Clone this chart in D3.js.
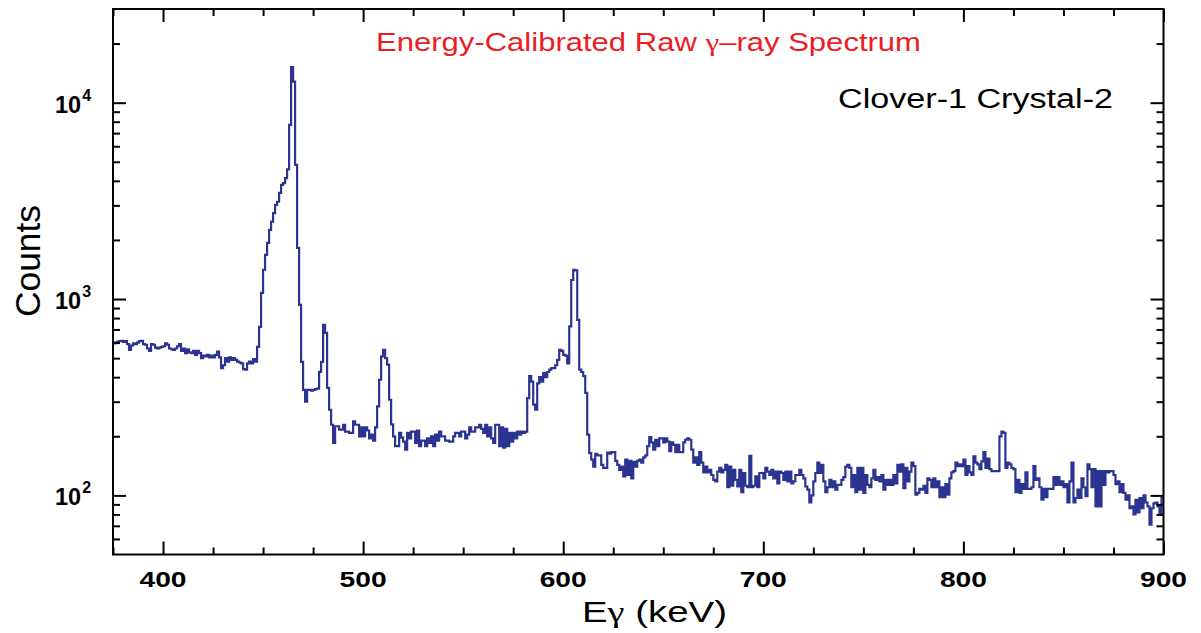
<!DOCTYPE html>
<html><head><meta charset="utf-8">
<script src="https://cdn.jsdelivr.net/npm/d3@7/dist/d3.min.js"></script>
<style>body{margin:0;background:#fff}svg{display:block}</style>
</head><body>
<svg id="chart" width="1201" height="633"></svg>
<script>
// ---- data ----
const binStart = 375;      // keV, left edge of first bin
const binWidth = 1;        // keV
const counts = [
  595,600,605,610,612,605,610,590,551,580,
  595,590,600,610,612,590,585,560,545,590,
  585,565,560,565,570,575,595,585,560,555,
  550,560,575,590,545,560,530,555,535,530,
  545,520,545,530,500,515,510,520,505,515,
  505,520,540,505,445,460,500,480,505,490,
  500,490,480,475,470,440,437,470,480,470,
  495,480,571,722,1076,1410,1680,1930,2250,2480,
  2740,3020,3130,3470,3810,3890,4130,4570,7700,15200,
  12800,4820,1820,934,479,345,300,345,345,342,
  345,348,350,426,479,739,673,353,273,229,
  185,225,225,216,216,229,211,211,208,208,
  238,229,229,200,222,200,222,214,195,204,
  190,222,284,388,510,551,500,463,307,230,
  200,178,178,208,197,188,171,208,195,211,
  211,185,214,178,190,190,178,195,185,200,
  178,204,190,211,200,200,190,190,188,188,
  200,208,208,200,211,211,195,204,222,211,
  211,222,222,229,218,208,229,200,222,195,
  185,229,229,178,222,175,218,178,208,188,
  208,195,211,204,211,208,211,313,405,380,
  290,273,372,400,380,420,400,425,437,445,
  445,460,490,551,545,520,515,470,726,1250,
  1410,1400,784,437,425,405,333,204,164,152,
  140,163,160,160,143,138,138,165,163,166,
  166,150,143,135,140,125,152,127,150,122,
  148,140,150,152,147,156,160,178,198,186,
  171,192,178,195,195,186,195,188,168,186,
  181,166,181,166,166,186,192,195,192,171,
  147,156,143,166,147,131,140,131,135,127,
  120,118,132,138,131,135,143,110,140,112,
  135,120,111,135,104,130,112,110,159,110,
  112,125,110,130,130,122,138,132,127,135,
  122,132,115,132,130,120,132,118,132,115,
  118,127,127,135,127,122,111,107,92,100,
  118,130,147,130,143,118,104,110,120,110,
  118,107,113,113,120,124,140,143,138,110,
  127,104,138,107,138,103,127,113,110,122,
  135,120,124,118,127,107,120,113,120,113,
  127,115,143,132,144,109,138,118,132,147,
  141,101,103,108,107,112,103,122,120,110,
  122,110,118,98,110,98,114,101,122,131,
  133,147,141,144,141,152,127,141,131,127,
  158,147,144,136,149,166,138,154,136,133,
  133,133,133,200,211,208,138,147,144,138,
  136,104,120,103,114,108,131,108,108,110,
  141,120,122,110,95,108,98,108,108,108,
  124,113,124,113,118,110,114,92,118,147,
  92,97,107,97,122,110,99,144,136,110,
  136,88,133,88,133,113,133,131,133,133,
  127,114,118,104,114,103,95,100,86,88,
  80,95,82,97,86,100,92,88,71,86,
  91,92,88,80,97
];
const xDomain = [375, 900];
const yDomain = [50, 30000];
const xMajorTicks = [400, 500, 600, 700, 800, 900];
const xMinorTicks = [375, 425, 450, 475, 525, 550, 575, 625, 650, 675, 725, 750, 775, 825, 850, 875];
const yMajorTicks = [100, 1000, 10000];
const yTickExponents = ["2", "3", "4"];
const titleParts = ["Energy-Calibrated Raw ", "\u03b3", "\u2013ray Spectrum"];
const labelText = "Clover-1 Crystal-2";
const xTitleParts = ["E", "\u03b3", " (keV)"];
const yTitle = "Counts";

// ---- layout ----
const L = 113, R = 1163.5, T = 9, B = 554.5;
const lineColor = "#2b3591";
const svg = d3.select("#chart");
const x = d3.scaleLinear().domain(xDomain).range([L, R]);
const y = d3.scaleLog().domain(yDomain).range([B, T]);

const yMinorTicks = [];
[10, 100, 1000, 10000].forEach(d => { for (let m = 2; m <= 9; m++) { const v = d * m; if (v > yDomain[0] && v < yDomain[1]) yMinorTicks.push(v); } });

svg.append("defs").append("clipPath").attr("id", "clip")
  .append("rect").attr("x", L).attr("y", T).attr("width", R - L).attr("height", B - T);

// histogram
const pts = counts.map((c, i) => [binStart + i * binWidth, c]);
pts.push([binStart + counts.length * binWidth, counts[counts.length - 1]]);
const line = d3.line().x(d => x(d[0])).y(d => y(d[1])).curve(d3.curveStepAfter);
svg.append("path").datum(pts).attr("clip-path", "url(#clip)")
  .attr("d", line).attr("fill", "none").attr("stroke", lineColor)
  .attr("stroke-width", 2.2).attr("stroke-linejoin", "miter");

// axes ticks (inward)
function ticks(axisFn, scale, values, size, transform) {
  const g = svg.append("g").attr("transform", transform)
    .call(axisFn(scale).tickValues(values).tickSize(size).tickFormat(""));
  g.select(".domain").remove();
  g.selectAll("line").attr("stroke", "#000").attr("stroke-width", 2);
}
ticks(d3.axisBottom, x, xMajorTicks, -13, `translate(0,${B})`);
ticks(d3.axisBottom, x, xMinorTicks, -7, `translate(0,${B})`);
ticks(d3.axisTop, x, xMajorTicks, -13, `translate(0,${T})`);
ticks(d3.axisTop, x, xMinorTicks, -7, `translate(0,${T})`);
ticks(d3.axisLeft, y, yMajorTicks, -13, `translate(${L},0)`);
ticks(d3.axisLeft, y, yMinorTicks, -7, `translate(${L},0)`);
ticks(d3.axisRight, y, yMajorTicks, -13, `translate(${R},0)`);
ticks(d3.axisRight, y, yMinorTicks, -7, `translate(${R},0)`);

// frame
svg.append("rect").attr("x", L).attr("y", T).attr("width", R - L).attr("height", B - T)
  .attr("fill", "none").attr("stroke", "#000").attr("stroke-width", 2);

const font = "'Liberation Sans', Arial, Helvetica, sans-serif";
const serif = "'Liberation Serif', 'DejaVu Serif', serif";

// x tick labels
svg.append("g").selectAll("text").data(xMajorTicks).join("text")
  .attr("x", d => x(d)).attr("y", 587).attr("text-anchor", "middle")
  .attr("font-family", font).attr("font-weight", "bold").attr("font-size", 21.5)
  .attr("textLength", 47).attr("lengthAdjust", "spacingAndGlyphs")
  .text(d => d);

// y tick labels 10^n
const yl = svg.append("g").selectAll("text").data(yMajorTicks).join("text")
  .attr("x", 55).attr("y", d => y(d) + 10)
  .attr("font-family", font).attr("font-weight", "bold").attr("font-size", 23.5);
yl.append("tspan").text("10");
yl.append("tspan").attr("dx", 1).attr("dy", -12).attr("font-size", 16).text((d, i) => yTickExponents[i]);

// titles
const t1 = svg.append("text").attr("x", 376).attr("y", 51).attr("fill", "#ec1c24")
  .attr("font-family", font).attr("font-size", 26)
  .attr("textLength", 545).attr("lengthAdjust", "spacingAndGlyphs");
titleParts.forEach((p, i) => t1.append("tspan").attr("font-family", i === 1 ? serif : font).text(p));

svg.append("text").attr("x", 838).attr("y", 108).attr("fill", "#000")
  .attr("font-family", font).attr("font-size", 27)
  .attr("textLength", 275).attr("lengthAdjust", "spacingAndGlyphs").text(labelText);

const t2 = svg.append("text").attr("x", 582).attr("y", 622).attr("fill", "#000")
  .attr("font-family", font).attr("font-size", 30)
  .attr("textLength", 145).attr("lengthAdjust", "spacingAndGlyphs");
xTitleParts.forEach((p, i) => t2.append("tspan").attr("font-family", i === 1 ? serif : font).text(p));

svg.append("text").attr("transform", "translate(40,261) rotate(-90)").attr("text-anchor", "middle")
  .attr("font-family", font).attr("font-size", 35)
  .attr("textLength", 112).attr("lengthAdjust", "spacingAndGlyphs").text(yTitle);
</script>
</body></html>
